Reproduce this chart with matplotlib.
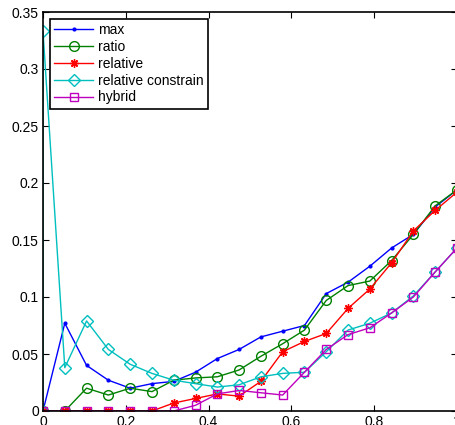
import numpy as np
import matplotlib
matplotlib.use("Agg")
import matplotlib.pyplot as plt

x = np.linspace(0, 1, 20)

max_vals = [0.0, 0.077, 0.040, 0.027, 0.020, 0.024, 0.026, 0.034, 0.046, 0.054,
            0.065, 0.070, 0.075, 0.103, 0.113, 0.127, 0.143, 0.155, 0.179, 0.194]
ratio_vals = [0.0, 0.0, 0.020, 0.014, 0.020, 0.017, 0.027, 0.029, 0.030, 0.036,
              0.048, 0.059, 0.071, 0.097, 0.110, 0.114, 0.132, 0.155, 0.180, 0.194]
relative_vals = [0.0, 0.0, 0.0, 0.0, 0.0, 0.0, 0.007, 0.011, 0.015, 0.013,
                 0.026, 0.052, 0.061, 0.068, 0.090, 0.107, 0.130, 0.158, 0.176, 0.192]
relcon_x = np.concatenate([[0.0], x])
relcon_vals = [0.0, 0.333, 0.038, 0.079, 0.054, 0.041, 0.033, 0.027, 0.024, 0.021, 0.023,
               0.030, 0.033, 0.034, 0.052, 0.071, 0.077, 0.086, 0.101, 0.122, 0.143]
hybrid_vals = [0.0, 0.0, 0.0, 0.0, 0.0, 0.0, 0.0, 0.005, 0.015, 0.018,
               0.016, 0.014, 0.034, 0.054, 0.067, 0.073, 0.086, 0.100, 0.122, 0.143]

labels = ["max", "ratio", "relative", "relative constrain", "hybrid"]

plt.rcParams['font.family'] = ['Liberation Sans', 'DejaVu Sans']

fig = plt.figure(figsize=(4.56, 4.25), dpi=100)
W, H = 456, 425
ax = fig.add_axes([43 / W, (H - 411) / H, (457 - 43) / W, (411 - 12) / H])

lw = 1.0
ms = 6
ax.plot(x, max_vals, color=(0, 0, 1), lw=lw, marker='.', ms=4, label=labels[0])
ax.plot(x, ratio_vals, color=(0, 0.5, 0), lw=lw, marker='o', ms=ms + 1, mfc='none', mew=1.0, label=labels[1])
ax.plot(x, relative_vals, color=(1, 0, 0), lw=lw, marker=(8, 2, 0), ms=ms, mew=1.0, label=labels[2])
ax.plot(relcon_x, relcon_vals, color=(0, 0.75, 0.75), lw=lw, marker='D', ms=ms, mfc='none', mew=1.0, label=labels[3])
ax.plot(x, hybrid_vals, color=(0.75, 0, 0.75), lw=lw, marker='s', ms=ms, mfc='none', mew=1.0, label=labels[4])

ax.set_xlim(0, 1)
ax.set_ylim(0, 0.35)
ax.set_xticks([0, 0.2, 0.4, 0.6, 0.8, 1.0])
ax.set_xticklabels(["0", "0.2", "0.4", "0.6", "0.8", "1"])
ax.set_yticks([0, 0.05, 0.1, 0.15, 0.2, 0.25, 0.3, 0.35])
ax.set_yticklabels(["0", "0.05", "0.1", "0.15", "0.2", "0.25", "0.3", "0.35"])
ax.tick_params(direction='in', length=4, width=0.8, labelsize=10, pad=3,
               top=True, right=True, colors='black')
for s in ax.spines.values():
    s.set_linewidth(1.2)
    s.set_color('black')

leg = ax.legend(loc='upper left', bbox_to_anchor=(0.017, 0.982), borderaxespad=0,
                fontsize=10, handlelength=2.8, handletextpad=0.35, labelspacing=0.2,
                borderpad=0.3, fancybox=False, framealpha=1, edgecolor='black')
leg.get_frame().set_linewidth(1.2)

fig.savefig("out.png", dpi=100)
